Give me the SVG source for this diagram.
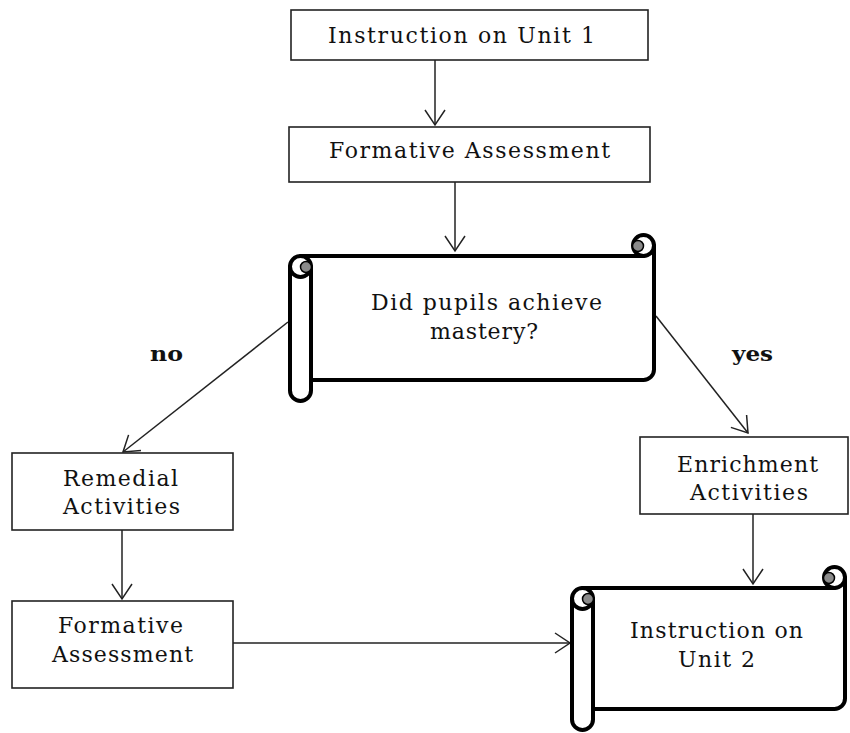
<svg xmlns="http://www.w3.org/2000/svg" width="850" height="733" viewBox="0 0 850 733">
<defs>
<marker id="ah" markerWidth="18" markerHeight="24" refX="16" refY="11" orient="auto" markerUnits="userSpaceOnUse">
<path d="M1,1 L16,11 L1,21" fill="none" stroke="#222" stroke-width="1.5"/>
</marker>
</defs>
<style>
.box{fill:#fff;stroke:#222;stroke-width:1.6}
.sc{fill:none;stroke:#000;stroke-width:4;stroke-linecap:round;stroke-linejoin:round}
.scf{fill:#fff;stroke:none}
.dot{fill:#8a8a8a;stroke:#000;stroke-width:1.5}
.t{font-family:"DejaVu Serif","Liberation Serif",serif;font-size:22px;fill:#111}
.b{font-family:"DejaVu Serif","Liberation Serif",serif;font-size:21px;font-weight:bold;fill:#111}
.c{fill:none;stroke:#222;stroke-width:1.5}
</style>
<rect width="850" height="733" fill="#fff"/>
<g id="connectors">
<line class="c" x1="435" y1="60" x2="435" y2="125" marker-end="url(#ah)"/>
<line class="c" x1="455" y1="182" x2="455" y2="251" marker-end="url(#ah)"/>
<line class="c" x1="288" y1="322" x2="123" y2="452" marker-end="url(#ah)"/>
<line class="c" x1="656" y1="316" x2="748" y2="433" marker-end="url(#ah)"/>
<line class="c" x1="122" y1="530" x2="122" y2="599" marker-end="url(#ah)"/>
<line class="c" x1="753" y1="514" x2="753" y2="584" marker-end="url(#ah)"/>
<line class="c" x1="233" y1="643" x2="570" y2="643" marker-end="url(#ah)"/>
</g>
<g id="n1">
<rect class="box" x="291" y="10" width="357" height="50"/>
<text class="t" x="328" y="43" textLength="267" lengthAdjust="spacing">Instruction on Unit 1</text>
</g>
<g id="n2">
<rect class="box" x="289" y="127" width="361" height="55"/>
<text class="t" x="329" y="158" textLength="281" lengthAdjust="spacing">Formative Assessment</text>
</g>
<g id="n3">
<rect class="scf" x="300" y="256" width="354" height="124"/>
<path class="sc" d="M300.5,256 H643.5 M654,245.5 V369.5 A10.5,10.5 0 0 1 643.5,380 H311"/>
<circle class="sc" cx="643.5" cy="245.5" r="10.5" fill="#fff"/>
<circle class="dot" cx="638" cy="246" r="5.5"/>
<path class="sc" d="M290,266.5 V390.5 A10.5,10.5 0 0 0 311,390.5 V266.5" fill="#fff"/>
<circle class="sc" cx="300.5" cy="266.5" r="10.5" fill="#fff"/>
<circle class="dot" cx="306" cy="267" r="5.5"/>
<text class="t" x="371" y="310" textLength="231" lengthAdjust="spacing">Did pupils achieve</text>
<text class="t" x="430" y="339" textLength="108" lengthAdjust="spacing">mastery?</text>
</g>
<g id="lbl-no"><text class="b" x="150" y="361" textLength="33" lengthAdjust="spacingAndGlyphs">no</text></g>
<g id="lbl-yes"><text class="b" x="732" y="361" textLength="41" lengthAdjust="spacingAndGlyphs">yes</text></g>
<g id="n4">
<rect class="box" x="12" y="453" width="221" height="77"/>
<text class="t" x="63" y="486" textLength="115" lengthAdjust="spacing">Remedial</text>
<text class="t" x="63" y="514" textLength="117" lengthAdjust="spacing">Activities</text>
</g>
<g id="n5">
<rect class="box" x="640" y="437" width="208" height="77"/>
<text class="t" x="677" y="472" textLength="141" lengthAdjust="spacing">Enrichment</text>
<text class="t" x="690" y="500" textLength="118" lengthAdjust="spacing">Activities</text>
</g>
<g id="n6">
<rect class="box" x="12" y="601" width="221" height="87"/>
<text class="t" x="58" y="633" textLength="125" lengthAdjust="spacing">Formative</text>
<text class="t" x="52" y="662" textLength="141" lengthAdjust="spacing">Assessment</text>
</g>
<g id="n7">
<rect class="scf" x="582" y="588" width="263" height="121"/>
<path class="sc" d="M582.5,588 H834.5 M845,577.5 V698.5 A10.5,10.5 0 0 1 834.5,709 H593"/>
<circle class="sc" cx="834.5" cy="577.5" r="10.5" fill="#fff"/>
<circle class="dot" cx="829" cy="578" r="5.5"/>
<path class="sc" d="M572,598.5 V719.5 A10.5,10.5 0 0 0 593,719.5 V598.5" fill="#fff"/>
<circle class="sc" cx="582.5" cy="598.5" r="10.5" fill="#fff"/>
<circle class="dot" cx="588" cy="599" r="5.5"/>
<text class="t" x="630" y="638" textLength="173" lengthAdjust="spacing">Instruction on</text>
<text class="t" x="678" y="667" textLength="77" lengthAdjust="spacing">Unit 2</text>
</g>
</svg>
